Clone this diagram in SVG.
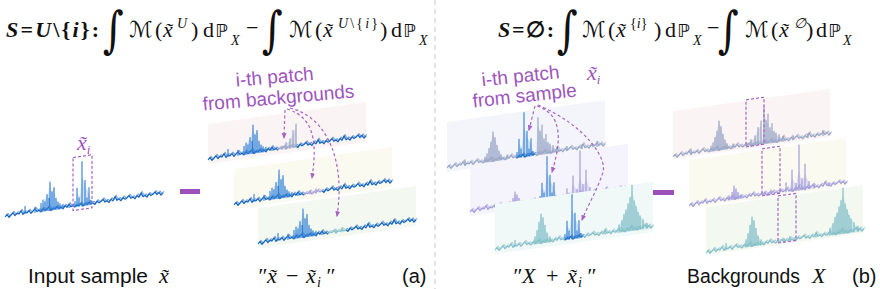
<svg xmlns="http://www.w3.org/2000/svg" xmlns:xlink="http://www.w3.org/1999/xlink" width="880" height="289" viewBox="0 0 880 289">
<style>
.m{font-family:"Liberation Serif",serif;font-size:22px;fill:#111}
.i{font-style:italic}
.cal{font-family:"DejaVu Sans",sans-serif;font-size:22px;fill:#111}
.bb{font-family:"DejaVu Sans",sans-serif;font-size:18px;fill:#111}
.sup{font-family:"Liberation Serif",serif;font-size:14px;font-style:italic;fill:#111}
.int{font-family:"DejaVu Serif",serif;font-size:50px;fill:#111}
.lab{font-family:"Liberation Sans",sans-serif;font-size:20px;fill:#111}
.pt{font-family:"Liberation Sans",sans-serif;font-size:19px;fill:#9d55bd}
.pm{font-family:"Liberation Serif",serif;font-style:italic;font-size:22px;fill:#9d55bd}
.sb{fill:none;stroke:#1565c0;stroke-width:1.2;stroke-linejoin:round}
.pb{fill:none;stroke:#2f7fd6;stroke-width:1.1}
.eb{fill:#9fc3ec;opacity:.5}
.s1{fill:none;stroke:#9aa6c6;stroke-width:1.2;stroke-linejoin:round}
.s2{fill:none;stroke:#a39ddb;stroke-width:1.2;stroke-linejoin:round}
.s3{fill:none;stroke:#84bfc8;stroke-width:1.2;stroke-linejoin:round}
.e1{fill:#b9c1da;opacity:.5}
.e2{fill:#c3bfe9;opacity:.5}
.e3{fill:#aad6dc;opacity:.5}
.box{fill:none;stroke:#a862c6;stroke-width:1.2;stroke-dasharray:3,2}
.arr{fill:none;stroke:#a862c6;stroke-width:1.2;stroke-dasharray:3,2.5;marker-end:url(#ah)}
.bar{fill:#9d4fb8}
</style>
<defs>
<marker id="ah" viewBox="0 0 10 10" refX="8" refY="5" markerWidth="5" markerHeight="5" orient="auto"><path d="M0,1 L10,5 L0,9 z" fill="#a862c6"/></marker>
<path id="nL" d="M0,0 L2,-2 L4,1 L6,-1 L8,-3 L10,0 L12,-2 L14,-1 L16,-4 L18,0 L20,-2 L22,-1 L24,-3 L26,0 L28,-2 L30,-4 L32,-1 L34,-2 L36,0 L38,-3 L40,-1 L42,-2 L44,-4 L46,0 L48,-2 L50,-1 L52,-3 L54,-1 L56,-2 L58,0 L60,-3 L62,-1 L64,-4 L66,-1 L68,-2 L70,0"/>
<path id="nP" d="M70,0 L72,-2 L74,-1 L76,-3 L78,0 L80,-2 L82,-1 L84,-3 L86,-1 L88,-2"/>
<path id="nR" d="M88,-2 L90,0 L92,-3 L94,-1 L96,-2 L98,-4 L100,-1 L102,-2 L104,0 L106,-3 L108,-1 L110,-5 L112,-1 L114,-2 L116,0 L118,-3 L120,-1 L122,-2 L124,-4 L126,-1 L128,-2 L130,0 L132,-3 L134,-1 L136,-5 L138,-1 L140,-2 L142,0 L144,-3 L146,-1 L148,-2 L150,-4 L152,-1 L154,-3 L156,0 L158,-2"/>
<g id="NL"><use href="#nL"/><use href="#nL" transform="translate(1,-1.3)" opacity=".55"/></g>
<g id="NP"><use href="#nP"/><use href="#nP" transform="translate(1,-1.3)" opacity=".55"/></g>
<g id="NR"><use href="#nR"/><use href="#nR" transform="translate(1,-1.3)" opacity=".55"/></g>
<path id="pkA" d="M20,0V-8 M30,0V-6 M36,0V-9 M38,0V-12 M40,0V-10 M42,0V-17 M44,0V-13 M45,0V-29 M47,0V-19 M49,0V-23 M51,0V-12 M53,0V-8 M55,0V-6 M58,0V-5 M64,0V-4"/>
<path id="pkAe" d="M34,0 L38,-8 L41,-14 L43,-16 L45,-26 L47,-18 L49,-22 L51,-10 L55,-5 L60,0 Z"/>
<path id="pkP" d="M70,0V-6 M72,0V-19 M74,0V-9 M77,0V-45 M80,0V-26 M82,0V-8 M84,0V-18 M86,0V-5"/>
<path id="pkPe" d="M70,0 L72,-14 L75,-10 L77,-30 L80,-20 L84,-12 L87,0 Z"/>
<path id="b1L" d="M18,0V-6 M38,0V-6 M40,0V-9 M42,0V-14 M44,0V-20 M46,0V-30 M48,0V-24 M50,0V-16 M52,0V-10 M54,0V-6 M60,0V-5"/>
<path id="b1Le" d="M36,0 L40,-6 L43,-16 L46,-28 L48,-22 L51,-12 L55,-4 L60,0 Z"/>
<path id="b1P" d="M74,0V-4 M78,0V-7 M82,0V-10 M85,0V-18 M88,0V-24"/>
<path id="b1Pe" d="M72,0 L78,-5 L82,-8 L85,-14 L88,-20 L89,0 Z"/>
<path id="b1R" d="M91,0V-38 M93,0V-24 M95,0V-30 M97,0V-16 M99,0V-20 M101,0V-12 M103,0V-10 M106,0V-8 M110,0V-6 M120,0V-5 M135,0V-5 M150,0V-6"/>
<path id="b1Re" d="M89,0 L91,-30 L94,-22 L97,-14 L101,-10 L108,-4 L114,0 Z"/>
<path id="b2L" d="M40,0V-5 M43,0V-8 M45,0V-14 M47,0V-11 M49,0V-7 M52,0V-4"/>
<path id="b2Le" d="M38,0 L43,-6 L45,-12 L48,-8 L53,-2 L56,0Z"/>
<path id="b2P" d="M76,0V-4 M82,0V-5"/>
<path id="b2R" d="M97,0V-10 M103,0V-22 M107,0V-8 M110,0V-46 M113,0V-12 M116,0V-26 M120,0V-8 M125,0V-5 M140,0V-4"/>
<path id="b2Re" d="M100,0 L103,-14 L107,-6 L110,-20 L113,-8 L116,-16 L121,-4 L126,0Z"/>
<path id="b3L" d="M20,0V-7 M40,0V-8 M42,0V-14 M44,0V-22 M46,0V-30 M48,0V-26 M50,0V-18 M52,0V-10 M55,0V-6"/>
<path id="b3Le" d="M37,0 L42,-10 L44,-18 L46,-28 L48,-24 L51,-12 L56,-3 L60,0 Z"/>
<path id="b3P" d="M78,0V-4 M84,0V-5"/>
<path id="b3R" d="M110,0V-5 M124,0V-8 M127,0V-12 M129,0V-18 M131,0V-22 M133,0V-28 M135,0V-34 M137,0V-46 M139,0V-30 M141,0V-24 M143,0V-18 M145,0V-14 M148,0V-10 M152,0V-6"/>
<path id="b3Re" d="M120,0 L126,-10 L131,-20 L135,-30 L137,-40 L140,-28 L144,-16 L150,-6 L156,0 Z"/>
</defs>
<rect width="880" height="289" fill="#fff"/>

<line x1="435" y1="0" x2="435" y2="289" stroke="#c8c8c8" stroke-width="1" stroke-dasharray="5,4"/>

<g id="formula-a">
<text class="m" x="6" y="37" font-size="24" font-weight="bold" textLength="93" lengthAdjust="spacing"><tspan class="i">S</tspan>=<tspan class="i">U</tspan>\{<tspan class="i">i</tspan>}:</text>
<text class="int" transform="translate(103,47) scale(0.8,1)">∫</text>
<text class="cal" x="129" y="37">ℳ</text>
<text class="m" x="155" y="37">(</text>
<text class="m i" x="163" y="37">x̃</text>
<text class="sup" x="177" y="28">U</text>
<text class="m" x="191" y="37">)</text>
<text class="m" x="203" y="37">d</text>
<text class="bb" x="215" y="37">ℙ</text>
<text class="sup" x="231" y="45">X</text>
<text class="m" x="246" y="35" font-size="16">−</text>
<text class="int" transform="translate(262,47) scale(0.8,1)">∫</text>
<text class="cal" x="289" y="37">ℳ</text>
<text class="m" x="315" y="37">(</text>
<text class="m i" x="323" y="37">x̃</text>
<text class="sup" x="338" y="28" textLength="40">U<tspan font-style="normal">\{</tspan>i<tspan font-style="normal">}</tspan></text>
<text class="m" x="380" y="37">)</text>
<text class="m" x="391" y="37">d</text>
<text class="bb" x="403" y="37">ℙ</text>
<text class="sup" x="419" y="45">X</text>
</g>

<g id="formula-b">
<text class="m" x="498" y="37" font-size="24" font-weight="bold" textLength="56" lengthAdjust="spacing"><tspan class="i">S</tspan>=∅:</text>
<text class="int" transform="translate(557,47) scale(0.8,1)">∫</text>
<text class="cal" x="582" y="37">ℳ</text>
<text class="m" x="608" y="37">(</text>
<text class="m i" x="616" y="37">x̃</text>
<text class="sup" x="630" y="28"><tspan font-style="normal">{</tspan>i<tspan font-style="normal">}</tspan></text>
<text class="m" x="654" y="37">)</text>
<text class="m" x="665" y="37">d</text>
<text class="bb" x="677" y="37">ℙ</text>
<text class="sup" x="693" y="45">X</text>
<text class="m" x="707" y="35" font-size="16">−</text>
<text class="int" transform="translate(718,47) scale(0.8,1)">∫</text>
<text class="cal" x="745" y="37">ℳ</text>
<text class="m" x="771" y="37">(</text>
<text class="m i" x="779" y="37">x̃</text>
<text class="sup" x="794" y="28" font-style="normal">∅</text>
<text class="m" x="806" y="37">)</text>
<text class="m" x="816" y="37">d</text>
<text class="bb" x="828" y="37">ℙ</text>
<text class="sup" x="843" y="45">X</text>
</g>

<g id="input-sample">
<g transform="matrix(1,-0.14,0,1,5,217)">
<use href="#pkAe" class="eb"/>
<use href="#pkPe" class="eb"/>
<use href="#NL" class="sb"/><use href="#NP" class="sb"/><use href="#NR" class="sb"/>
<use href="#pkA" class="pb"/><use href="#pkP" class="pb"/>
<rect x="68" y="-50" width="19" height="53" class="box"/>
</g>
<text class="pm" x="77" y="150">x̃<tspan font-size="13" dy="4">i</tspan></text>
</g>
<rect id="minus-a" class="bar" x="180" y="189" width="20" height="5"/>

<g id="label-a" transform="rotate(-5 278 92)">
<text class="pt" x="276" y="83" text-anchor="middle">i-th patch</text>
<text class="pt" x="278" y="104" text-anchor="middle">from backgrounds</text>
</g>

<g id="label-b" transform="rotate(-6 524 90)">
<text class="pt" x="522" y="82" text-anchor="middle">i-th patch</text>
<text class="pt" x="524" y="102" text-anchor="middle">from sample</text>
</g>
<text class="pm" x="587" y="80">x̃<tspan font-size="13" dy="4">i</tspan></text>

<g id="panel-a1" transform="matrix(1,-0.14,0,1,208,160)">
<rect x="0" y="-36" width="158" height="40" fill="#fbf4f4"/>
<use href="#pkAe" class="eb"/><use href="#b1Pe" class="e1"/>
<use href="#NL" class="sb"/><use href="#NR" class="sb"/><use href="#pkA" class="pb"/>
<use href="#NP" class="s1"/><use href="#b1P" class="s1"/>
</g>
<g id="panel-a2" transform="matrix(1,-0.14,0,1,234,205)">
<rect x="0" y="-36" width="158" height="40" fill="#fbfaf1"/>
<use href="#pkAe" class="eb"/>
<use href="#NL" class="sb"/><use href="#NR" class="sb"/><use href="#pkA" class="pb"/>
<use href="#NP" class="s2"/><use href="#b2P" class="s2"/>
</g>
<g id="panel-a3" transform="matrix(1,-0.14,0,1,258,244)">
<rect x="0" y="-36" width="158" height="40" fill="#f3f8f1"/>
<use href="#pkAe" class="eb"/>
<use href="#NL" class="sb"/><use href="#NR" class="sb"/><use href="#pkA" class="pb"/>
<use href="#NP" class="s3"/><use href="#b3P" class="s3"/>
</g>

<g id="panel-b1" transform="matrix(1,-0.14,0,1,447,168)">
<rect x="0" y="-46" width="158" height="50" fill="#f3f5fa"/>
<use href="#b1Le" class="e1"/><use href="#b1Re" class="e1"/><use href="#pkPe" class="eb"/>
<use href="#NL" class="s1"/><use href="#NR" class="s1"/><use href="#b1L" class="s1"/><use href="#b1R" class="s1"/>
<use href="#NP" class="sb"/><use href="#pkP" class="pb"/>
</g>
<g id="panel-b2" transform="matrix(1,-0.14,0,1,470,212)">
<rect x="0" y="-46" width="158" height="50" fill="#f5f3fb"/>
<use href="#b2Le" class="e2"/><use href="#b2Re" class="e2"/><use href="#pkPe" class="eb"/>
<use href="#NL" class="s2"/><use href="#NR" class="s2"/><use href="#b2L" class="s2"/><use href="#b2R" class="s2"/>
<use href="#NP" class="sb"/><use href="#pkP" class="pb"/>
</g>
<g id="panel-b3" transform="matrix(1,-0.14,0,1,495,250)">
<rect x="0" y="-46" width="158" height="50" fill="#f0f8f8"/>
<use href="#b3Le" class="e3"/><use href="#b3Re" class="e3"/><use href="#pkPe" class="eb"/>
<use href="#NL" class="s3"/><use href="#NR" class="s3"/><use href="#b3L" class="s3"/><use href="#b3R" class="s3"/>
<use href="#NP" class="sb"/><use href="#pkP" class="pb"/>
</g>
<rect id="minus-b" class="bar" x="653" y="190" width="21" height="5"/>

<g id="bg-1" transform="matrix(1,-0.14,0,1,673,157)">
<rect x="0" y="-46" width="157" height="48" fill="#fbf4f4"/>
<use href="#b1Le" class="e1"/><use href="#b1Pe" class="e1"/><use href="#b1Re" class="e1"/>
<use href="#NL" class="s1"/><use href="#NP" class="s1"/><use href="#NR" class="s1"/>
<use href="#b1L" class="s1"/><use href="#b1P" class="s1"/><use href="#b1R" class="s1"/>
<rect x="73" y="-47" width="18" height="47" class="box"/>
</g>
<g id="bg-2" transform="matrix(1,-0.14,0,1,689,206)">
<rect x="0" y="-46" width="157" height="48" fill="#fbfaf1"/>
<use href="#b2Le" class="e2"/><use href="#b2Re" class="e2"/>
<use href="#NL" class="s2"/><use href="#NP" class="s2"/><use href="#NR" class="s2"/>
<use href="#b2L" class="s2"/><use href="#b2P" class="s2"/><use href="#b2R" class="s2"/>
<rect x="73" y="-47" width="18" height="47" class="box"/>
</g>
<g id="bg-3" transform="matrix(1,-0.14,0,1,706,253)">
<rect x="0" y="-46" width="157" height="48" fill="#f3f8f1"/>
<use href="#b3Le" class="e3"/><use href="#b3Re" class="e3"/>
<use href="#NL" class="s3"/><use href="#NP" class="s3"/><use href="#NR" class="s3"/>
<use href="#b3L" class="s3"/><use href="#b3P" class="s3"/><use href="#b3R" class="s3"/>
<rect x="72" y="-47" width="18" height="47" class="box"/>
</g>

<g id="connectors">
<path class="arr" d="M285,110 L284,138"/>
<path class="arr" d="M287,109 C318,118 316,150 312,178"/>
<path class="arr" d="M290,108 C330,118 345,165 337,216"/>
<path class="arr" d="M535,106 L529,130"/>
<path class="arr" d="M537,106 C565,115 560,145 552,172"/>
<path class="arr" d="M538,105 C585,125 610,160 602,175 C597,190 588,205 582,220"/>
</g>

<g id="labels-bottom">
<text class="lab" x="28" y="283" textLength="120" lengthAdjust="spacingAndGlyphs">Input sample</text>
<text class="m i" x="159" y="283">x̃</text>
<text class="m i" x="257" y="283">″</text>
<text class="m i" x="267" y="283">x̃</text>
<text class="m" x="286" y="283">−</text>
<text class="m i" x="306" y="283">x̃</text>
<text class="sup" x="317" y="287" font-size="11">i</text>
<text class="m i" x="325" y="283">″</text>
<text class="lab" x="402" y="283">(a)</text>
<text class="m i" x="512" y="283">″</text>
<text class="m i" x="522" y="283">X</text>
<text class="m" x="546" y="283">+</text>
<text class="m i" x="567" y="283">x̃</text>
<text class="sup" x="578" y="287" font-size="11">i</text>
<text class="m i" x="586" y="283">″</text>
<text class="lab" x="687" y="283" textLength="113" lengthAdjust="spacingAndGlyphs">Backgrounds</text>
<text class="m i" x="812" y="283">X</text>
<text class="lab" x="852" y="283">(b)</text>
</g>
</svg>
